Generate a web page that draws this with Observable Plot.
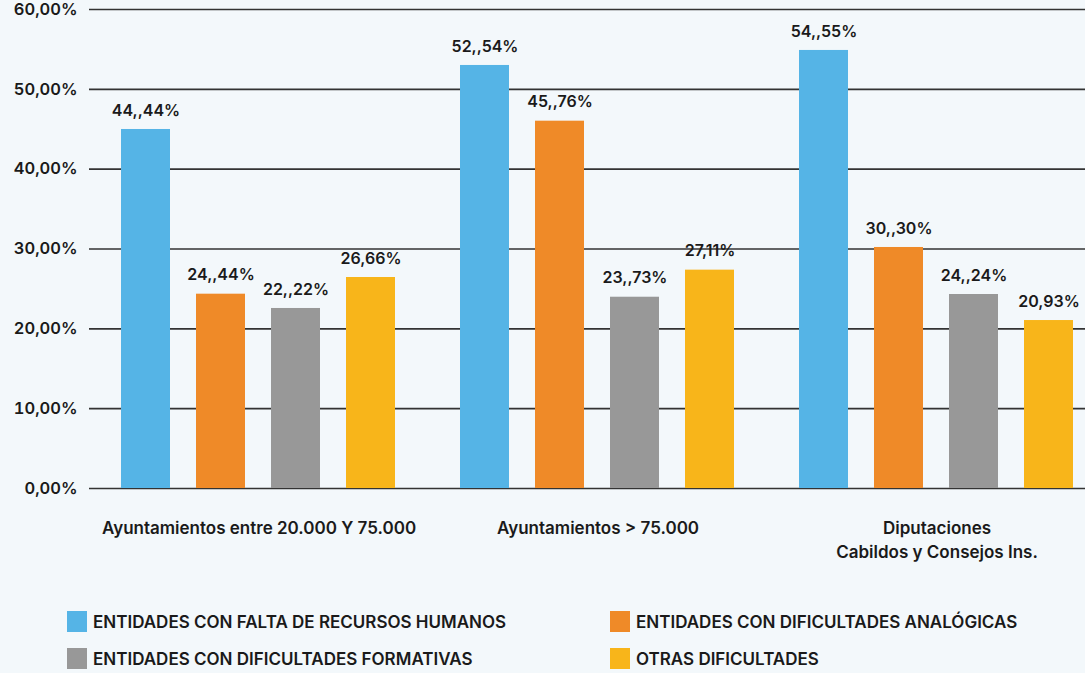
<!DOCTYPE html>
<html>
<head>
<meta charset="utf-8">
<script src="https://cdn.jsdelivr.net/npm/d3@7"></script>
<script src="https://cdn.jsdelivr.net/npm/@observablehq/plot@0.6"></script>
<style>
  html, body { margin: 0; padding: 0; background: #f3f8fb; overflow: hidden; width: 1085px; height: 673px; }
  #chart svg { display: block; max-width: none !important; }
  #legend { position: absolute; left: 67px; top: 611px; width: 1000px; font-family: Inter, "Noto Sans", sans-serif; font-weight: 600; font-size: 17px; color: #1a1a1a; }
  .item { position: absolute; display: flex; align-items: center; white-space: nowrap; }
  .sw { width: 20px; height: 21px; margin-right: 6px; }
</style>
</head>
<body>
<div id="chart"></div>
<div id="legend"></div>
<script>
const groups = ["Ayuntamientos entre 20.000 Y 75.000", "Ayuntamientos > 75.000", "Diputaciones\nCabildos y Consejos Ins."];
const series = ["ENTIDADES CON FALTA DE RECURSOS HUMANOS", "ENTIDADES CON DIFICULTADES ANALÓGICAS", "ENTIDADES CON DIFICULTADES FORMATIVAS", "OTRAS DIFICULTADES"];
const colors = ["#55b4e6", "#ef8a28", "#989898", "#f8b51a"];

const humanos = [44.97, 52.99, 54.87];
const analogicas = [24.34, 46.01, 30.19];
const formativas = [22.55, 23.96, 24.30];
const otras = [26.43, 27.35, 21.04];

const humanosLabels = ["44,,44%", "52,,54%", "54,,55%"];
const analogicasLabels = ["24,,44%", "45,,76%", "30,,30%"];
const formativasLabels = ["22,,22%", "23,,73%", "24,,24%"];
const otrasLabels = ["26,66%", "27,11%", "20,93%"];

const yTicks = [0, 10, 20, 30, 40, 50, 60];

const seriesValues = [humanos, analogicas, formativas, otras];
const seriesLabels = [humanosLabels, analogicasLabels, formativasLabels, otrasLabels];
const data = [];
series.forEach((s, i) => groups.forEach((g, j) => data.push({group: g, series: s, value: seriesValues[i][j], label: seriesLabels[i][j]})));

const font = "Inter, 'Noto Sans', sans-serif";
const chart = Plot.plot({
  width: 1111,
  height: 580,
  marginLeft: 84,
  marginRight: 0,
  marginTop: 9,
  marginBottom: 92,
  style: {background: "transparent", fontFamily: font, fontSize: "16px", fontWeight: 600, color: "#1a1a1a", overflow: "visible", maxWidth: "none"},
  fx: {domain: groups, paddingInner: 0, paddingOuter: 0.0103, label: null},
  x: {domain: series, paddingInner: 0.34, paddingOuter: 0.416, axis: null},
  y: {domain: [0, 60], ticks: yTicks, label: null},
  color: {domain: series, range: colors},
  marks: [
    Plot.ruleY(yTicks, {stroke: "#333", strokeWidth: 1.6, strokeOpacity: 1}),
    Plot.barY(data, {fx: "group", x: "series", y: "value", fill: "series"}),
    Plot.text(data, {fx: "group", x: "series", y: "value", text: "label", dy: -19, fill: "#1a1a1a", fontSize: 16, fontWeight: 600}),
    Plot.axisY(yTicks, {tickSize: 0, tickPadding: 12, tickFormat: d => d.toFixed(2).replace(".", ",") + "%", fontSize: 16.5, fontWeight: 600, label: null, fill: "#1a1a1a"}),
    Plot.axisFx({anchor: "bottom", tickSize: 0, tickPadding: 29, label: null, fontSize: 17, fontWeight: 600, lineHeight: 1.4, fill: "#1a1a1a"})
  ]
});
document.getElementById("chart").appendChild(chart);

const legend = document.getElementById("legend");
const pos = [[0, 0], [543, 0], [0, 37], [543, 37]];
series.forEach((s, i) => {
  const item = document.createElement("div");
  item.className = "item";
  item.style.left = pos[i][0] + "px";
  item.style.top = pos[i][1] + "px";
  const sw = document.createElement("span");
  sw.className = "sw";
  sw.style.background = colors[i];
  const t = document.createElement("span");
  t.textContent = s;
  item.appendChild(sw);
  item.appendChild(t);
  legend.appendChild(item);
});
</script>
</body>
</html>
